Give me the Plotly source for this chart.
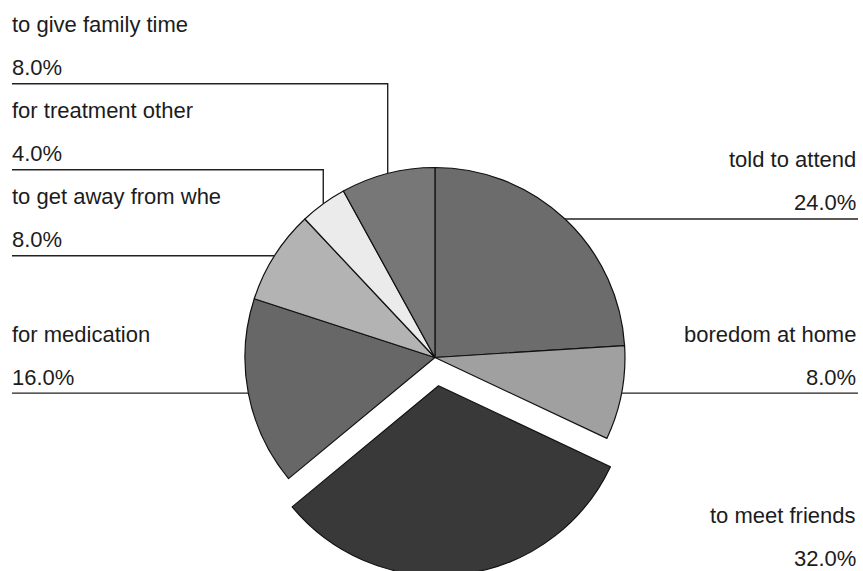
import math
import plotly.graph_objects as go

# ---- data ----
categories = ["told to attend", "boredom at home", "to meet friends", "for medication",
              "to get away from whe", "for treatment other", "to give family time"]
percentages = [24.0, 8.0, 32.0, 16.0, 8.0, 4.0, 8.0]
exploded = ["to meet friends"]

# ---- styles ----
slice_colors = ["#6c6c6c", "#a0a0a0", "#393939", "#676767", "#b3b3b3", "#ebebeb", "#777777"]
W, H = 863, 576          # figure is a few px taller than the 571px window; bottom is cropped
PULL = 0.15
DOM_X = [0.2, 0.808]
DOM_Y = [0.0, 0.7587]
FONT = dict(family="Liberation Sans, Arial, sans-serif", size=22, color="#1c1c1c")
LEFT_X, RIGHT_X = 10, 858
SLOT = 86          # minimum vertical gap between stacked label slots (px)
NAME_OFF, PCT_OFF = 59, 16   # text offsets above leader line (px)

pulls = [PULL if c in exploded else 0 for c in categories]

fig = go.Figure(go.Pie(
    labels=categories, values=percentages, sort=False, direction="clockwise", rotation=0,
    pull=pulls, textinfo="none", hoverinfo="label+percent", showlegend=False,
    marker=dict(colors=slice_colors, line=dict(color="#111111", width=1.2)),
    domain=dict(x=DOM_X, y=DOM_Y),
))

# pie geometry (same rule plotly uses to size the pie inside its domain)
bw = W * (DOM_X[1] - DOM_X[0])
bh = H * (DOM_Y[1] - DOM_Y[0])
r = min(bw, bh) / 2 / (1 + max(pulls))
cx = W * (DOM_X[0] + DOM_X[1]) / 2
cy = H * (1 - DOM_Y[0]) - bh / 2

total = sum(percentages)
mids, ax, ay = [], [], []
acc = 0
for v, p in zip(percentages, pulls):
    m = (acc + v / 2) / total * 360
    acc += v
    rr = r * (1 + p)
    mids.append(m)
    ax.append(cx + rr * math.sin(math.radians(m)))
    ay.append(cy - rr * math.cos(math.radians(m)))

n = len(categories)
line_y = {}
left = sorted([i for i in range(n) if mids[i] > 180], key=lambda i: -ay[i])
prev = None
for i in left:
    y = ay[i] if prev is None else min(ay[i], prev - SLOT)
    line_y[i] = y
    prev = y
right = sorted([i for i in range(n) if mids[i] <= 180], key=lambda i: ay[i])
prev = None
for i in right:
    y = ay[i] if prev is None else max(ay[i], prev + SLOT)
    line_y[i] = y
    prev = y

px = lambda x: x / W
py = lambda y: 1 - y / H

shapes, annotations = [], []
for i in range(n):
    ly = line_y[i]
    is_left = mids[i] > 180
    x_text = LEFT_X if is_left else RIGHT_X
    x_line = 12 if is_left else RIGHT_X
    if abs(ly - ay[i]) > 0.5:
        path = f"M {px(x_line)},{py(ly)} L {px(ax[i])},{py(ly)} L {px(ax[i])},{py(ay[i])}"
    else:
        path = f"M {px(x_line)},{py(ly)} L {px(ax[i])},{py(ly)}"
    shapes.append(dict(type="path", xref="paper", yref="paper", path=path,
                       line=dict(color="#222222", width=1.4)))
    anchor = "left" if is_left else "right"
    annotations.append(dict(xref="paper", yref="paper", x=px(x_text), y=py(ly - NAME_OFF),
                            text=categories[i], showarrow=False, xanchor=anchor,
                            yanchor="middle", font=FONT))
    annotations.append(dict(xref="paper", yref="paper", x=px(x_text), y=py(ly - PCT_OFF),
                            text=f"{percentages[i]:.1f}%", showarrow=False, xanchor=anchor,
                            yanchor="middle", font=FONT))

fig.update_layout(width=W, height=H, margin=dict(l=0, r=0, t=0, b=0),
                  paper_bgcolor="white", plot_bgcolor="white",
                  shapes=shapes, annotations=annotations)
fig.write_html("out.html", config={"displayModeBar": False},
               post_script="document.body.style.margin='0';document.body.style.overflow='hidden';")
